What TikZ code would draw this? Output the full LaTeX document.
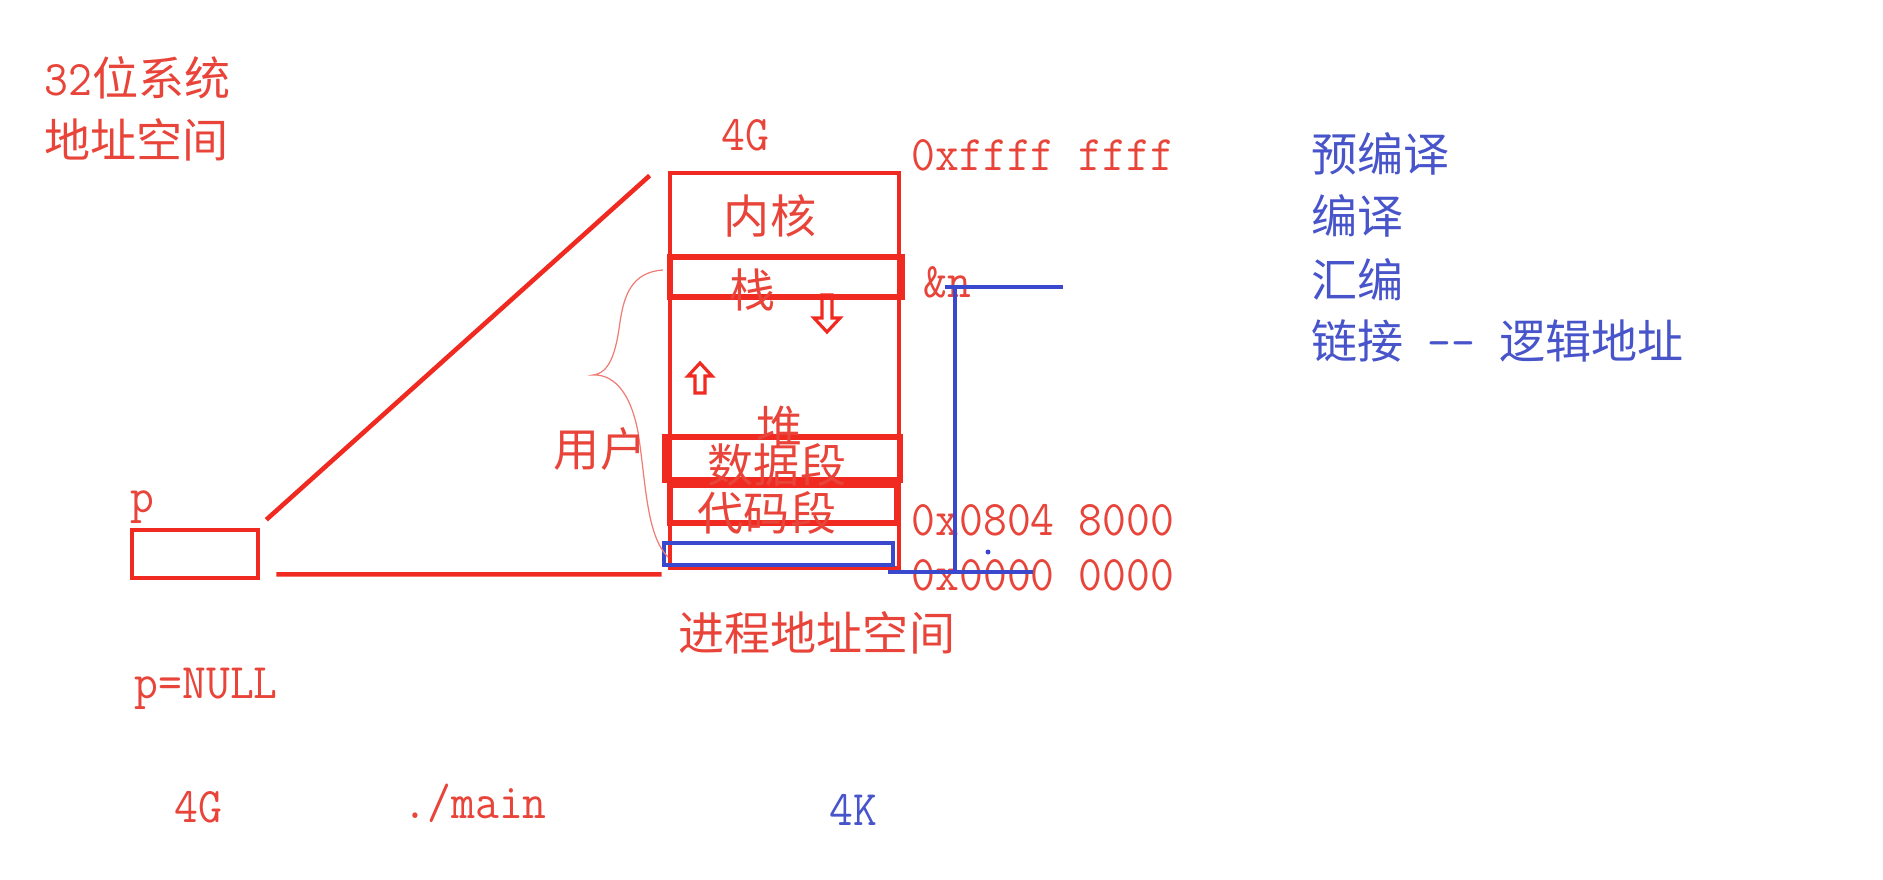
\documentclass[tikz,border=0pt]{standalone}
\usepackage{fontspec}
\setmainfont{Latin Modern Mono}[Scale=1.08,FakeStretch=0.93]
\newfontfamily\cjk{Noto Sans CJK SC}
\usetikzlibrary{calc}
\definecolor{inkred}{RGB}{240,42,32}
\definecolor{txtred}{RGB}{232,68,58}
\definecolor{penblue}{RGB}{58,72,205}
\definecolor{txtblue}{RGB}{72,84,202}
\tikzset{
  seg/.style={draw=inkred,line width=#1,inner sep=0pt},
  seg/.default=1.3pt,
  lbl/.style={text=txtred,font=\fontsize{13.1pt}{15pt}\selectfont,inner sep=0pt,anchor=base west},
  hint/.style={lbl,text=txtblue},
  pen/.style={draw=penblue,line width=1.3pt},
  growmark/.style={draw=inkred,line width=0.9pt,line join=miter},
}
\begin{document}
\begin{tikzpicture}[x=0.01cm,y=-0.01cm]
  \useasboundingbox (0,0) rectangle (1883,879);
  % title
  \node[lbl] (t32) at (44,96) {32{\cjk 位系统}};
  \node[lbl] (taddr) at (44,158) {\cjk 地址空间};
  % memory column
  \node[seg,minimum width=2.29cm,minimum height=3.95cm] (mem) at (784.5,370.5) {};
  \node[seg=1.8pt,minimum width=2.32cm,minimum height=0.40cm] (stk) at (786,277) {};
  \node[seg=1.5pt,minimum width=2.35cm,minimum height=0.43cm] (dat) at (782.5,458.5) {};
  \node[seg=1.5pt,minimum width=2.27cm,minimum height=0.38cm] (cod) at (783.5,504) {};
  \node[draw=penblue,line width=1.3pt,inner sep=0pt,minimum width=2.29cm,minimum height=0.22cm] (low) at (778.5,554) {};
  \node[lbl,anchor=base] (top4g) at (745,150) {4G};
  \node[lbl,anchor=base] (kern) at (770,233) {\cjk 内核};
  \node[lbl,anchor=base] (stack) at (753,307) {\cjk 栈};
  \node[lbl,anchor=base] (heap) at (780,444) {\cjk 堆};
  \node[lbl,anchor=base] (data) at (777,482) {\cjk 数据段};
  \node[lbl,anchor=base] (code) at (767,530) {\cjk 代码段};
  \draw[growmark] (822,295) -- (832,295) -- (832,318) -- (840,318) -- (827,332) -- (814,318) -- (822,318) -- cycle;
  \draw[growmark] (700,363) -- (712,376) -- (705,376) -- (705,393) -- (695,393) -- (695,376) -- (688,376) -- cycle;
  % user brace
  \draw[txtred!70,line width=0.35pt] (663,270) .. controls (632,272) and (624,295) .. (620,322)
    .. controls (616,352) and (610,373) .. (593,375)
    .. controls (618,374) and (632,400) .. (638,432)
    .. controls (646,482) and (646,535) .. (668,557);
  \node[lbl,anchor=base] (user) at (600,466) {\cjk 用户};
  % addresses
  \node[lbl] (hexff) at (911,170) {0xffff ffff};
  \node[lbl] (addrn) at (923,297) {\&n};
  \node[lbl] (hex804) at (911,535) {0x0804 8000};
  \node[lbl] (hex0) at (911,590) {0x0000 0000};
  \node[lbl] (proc) at (678,650) {\cjk 进程地址空间};
  % pointer p
  \node[seg,minimum width=1.26cm,minimum height=0.48cm] (pbox) at (195,554) {};
  \node[lbl] (pname) at (130,512) {p};
  \node[lbl] (pnull) at (134,698) {p=NULL};
  \draw[inkred,line width=1.3pt] ($(pbox.north east)+(6,-8)$) -- ($(mem.north west)+(-18,5)$);
  \draw[inkred,line width=1.3pt] ($(pbox.south east)+(16,-6)$) -- ($(mem.south west)+(-6,4)$);
  % blue marks
  \coordinate (ntop) at (955,287);
  \coordinate (nbot) at (955,572);
  \draw[pen] (945,287) -- (1063,287);
  \draw[pen] (ntop) -- (nbot);
  \draw[pen] (888,572) -- (1033,572);
  \fill[penblue] (988,552) circle (2.5);
  % bottom notes
  \node[lbl] (g4) at (174,822) {4G};
  \node[lbl] (mainx) at (403,818) {./main};
  \node[hint] (k4) at (829,825) {4K};
  % build steps
  \foreach \t/\y [count=\i] in {预编译/171, 编译/233, 汇编/297}
    \node[hint] (stage\i) at (1311,\y) {\cjk \t};
  \node[hint] (stage4) at (1311,358) {{\cjk 链接} -{}- {\cjk 逻辑地址}};
\end{tikzpicture}
\end{document}
